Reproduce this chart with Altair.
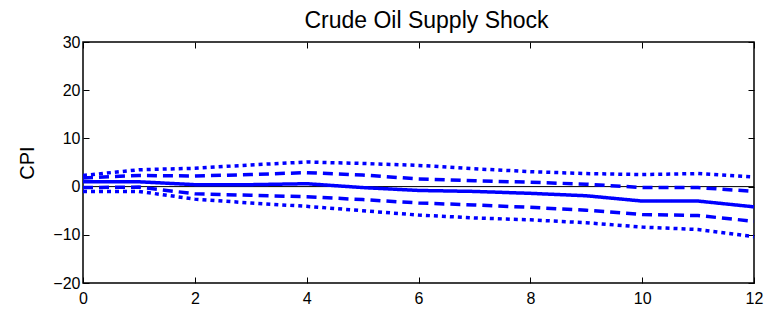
import altair as alt
import pandas as pd

horizon = [0, 1, 2, 3, 4, 5, 6, 7, 8, 9, 10, 11, 12]
median = [1.0, 1.0, 0.4, 0.4, 0.6, -0.2, -0.8, -1.0, -1.4, -1.9, -3.0, -3.0, -4.2]
upper68 = [1.8, 2.3, 2.2, 2.5, 2.9, 2.4, 1.6, 1.2, 0.9, 0.5, -0.2, -0.2, -1.0]
lower68 = [-0.2, -0.1, -1.5, -1.8, -2.1, -2.7, -3.4, -3.8, -4.3, -4.9, -5.8, -6.0, -7.2]
upper95 = [2.3, 3.5, 3.8, 4.5, 5.1, 4.8, 4.4, 3.7, 3.1, 2.7, 2.5, 2.7, 2.0]
lower95 = [-1.0, -1.0, -2.6, -3.4, -4.1, -5.0, -5.9, -6.5, -6.9, -7.5, -8.4, -8.9, -10.4]

x_ticks = [0, 2, 4, 6, 8, 10, 12]
y_ticks = [-20, -10, 0, 10, 20, 30]

series = [
    ("median", "solid", median),
    ("upper68", "dashed", upper68),
    ("lower68", "dashed", lower68),
    ("upper95", "dotted", upper95),
    ("lower95", "dotted", lower95),
]
rows = []
for name, style, vals in series:
    for h, v in zip(horizon, vals):
        rows.append({"h": h, "v": v, "series": name, "style": style})
df = pd.DataFrame(rows)

W, H = 671, 241
FONT = "Liberation Sans"
xs = alt.Scale(domain=[0, 12], nice=False, zero=False)
ys = alt.Scale(domain=[-20, 30], nice=False, zero=False)

base = alt.Chart(df)

lines = base.mark_line(strokeWidth=3.5, color="#0000ff").encode(
    x=alt.X("h:Q", scale=xs, axis=alt.Axis(orient="bottom", values=x_ticks, ticks=False, domain=False,
                                           grid=False, labelPadding=7, labelFontSize=16, labelFont=FONT,
                                           labelColor="black", title=None, labelFlush=False)),
    y=alt.Y("v:Q", scale=ys, axis=alt.Axis(orient="left", values=y_ticks, ticks=False, domain=False,
                                           grid=False, labelPadding=3, labelFontSize=16, labelFont=FONT,
                                           labelColor="black", title="CPI", titleFontSize=20,
                                           titleFont=FONT, titleFontWeight="normal", titleColor="black",
                                           titlePadding=15, labelFlush=False)),
    strokeDash=alt.StrokeDash("style:N", scale=alt.Scale(domain=["solid", "dashed", "dotted"],
                                                          range=[[1, 0], [10, 6], [4, 4]]), legend=None),
    detail="series:N",
)

zero = alt.Chart(pd.DataFrame({"z": [0]})).mark_rule(color="black", strokeWidth=1).encode(
    y=alt.Y("z:Q", scale=ys, axis=None)
)

tick_style = dict(labels=False, domain=False, grid=False, ticks=True, tickSize=6, tickColor="black",
                  tickWidth=1, title=None)

ticks_a = base.mark_point(opacity=0).encode(
    x=alt.X("h:Q", scale=xs, axis=alt.Axis(orient="top", offset=-H, values=x_ticks, **tick_style)),
    y=alt.Y("v:Q", scale=ys, axis=alt.Axis(orient="right", offset=-W, values=y_ticks, **tick_style)),
)
ticks_b = base.mark_point(opacity=0).encode(
    x=alt.X("h:Q", scale=xs, axis=alt.Axis(orient="bottom", offset=-H, values=x_ticks, **tick_style)),
    y=alt.Y("v:Q", scale=ys, axis=alt.Axis(orient="left", offset=-W, values=y_ticks, **tick_style)),
)

chart = alt.layer(zero, lines, ticks_a, ticks_b).resolve_scale(x="independent", y="independent").properties(
    width=W, height=H,
    title=alt.TitleParams("Crude Oil Supply Shock", fontSize=23, font=FONT, fontWeight="normal",
                          color="black", offset=1, dx=8),
    autosize=alt.AutoSizeParams(type="none"),
    padding={"left": 75, "top": 34, "right": 10, "bottom": 30},
).configure(background="white", view=alt.ViewConfig(stroke="black", strokeWidth=1.5))

chart.save("out.html", embed_options={"renderer": "svg", "actions": False})
